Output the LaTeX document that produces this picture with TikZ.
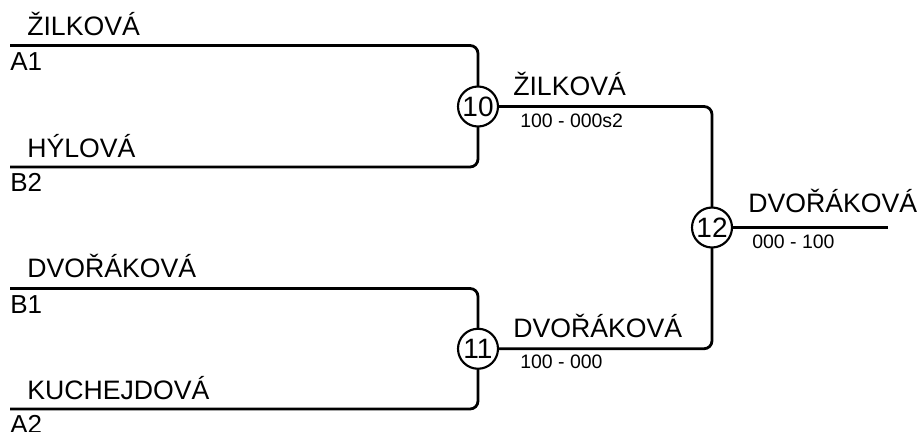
\documentclass[tikz,border=0pt]{standalone}
\usepackage{fontspec}
\setmainfont{Liberation Sans}
\begin{document}
\begin{tikzpicture}[x=0.75pt,y=-0.75pt,
  wire/.style={line width=2.1pt, rounded corners=6pt},
  pname/.style={anchor=base west, inner sep=0pt, font=\fontsize{20}{20}\selectfont},
  seed/.style={anchor=base west, inner sep=0pt, font=\fontsize{19.5}{19.5}\selectfont},
  score/.style={anchor=base west, inner sep=0pt, font=\fontsize{14.6}{14.6}\selectfont},
  game/.style={circle, draw, line width=1.6pt, fill=white, inner sep=0pt,
    minimum size=30pt, font=\fontsize{21}{21}\selectfont}
]
\useasboundingbox (0,0) rectangle (918,432);

% line start / end points
\coordinate (sa1) at (10,45.5);
\coordinate (sb2) at (10,167);
\coordinate (sb1) at (10,288.5);
\coordinate (sa2) at (10,409);
\coordinate (fin) at (888,227.5);

% wires (drawn first, circles on top)
\path (478,106.5) coordinate (p10) (478,348.75) coordinate (p11) (712,227.5) coordinate (p12);
\draw[wire] (sa1) -| (p10);
\draw[wire] (sb2) -| (p10);
\draw[wire] (sb1) -| (p11);
\draw[wire] (sa2) -| (p11);
\draw[wire] (p10) -| (p12);
\draw[wire] (p11) -| (p12);
\draw[wire] (p12) -- (fin);

% games
\node[game] (g10) at (p10) {10};
\node[game] (g11) at (p11) {11};
\node[game] (g12) at (p12) {12};

% first round
\node[pname] (n1) at (27,36) {ŽILKOVÁ};
\node[seed]  (s1) at (10,70) {A1};
\node[pname] (n2) at (27,157) {HÝLOVÁ};
\node[seed]  (s2) at (10,191.5) {B2};
\node[pname] (n3) at (27,277) {DVOŘÁKOVÁ};
\node[seed]  (s3) at (10,313) {B1};
\node[pname] (n4) at (27,399) {KUCHEJDOVÁ};
\node[seed]  (s4) at (10,433.5) {A2};

% second round
\node[pname] (w10) at (513,95) {ŽILKOVÁ};
\node[score] (r10) at (520,127) {100 - 000s2};
\node[pname] (w11) at (513,337) {DVOŘÁKOVÁ};
\node[score] (r11) at (520,368) {100 - 000};

% final
\node[pname] (w12) at (748,212) {DVOŘÁKOVÁ};
\node[score] (r12) at (752,248) {000 - 100};
\end{tikzpicture}
\end{document}
